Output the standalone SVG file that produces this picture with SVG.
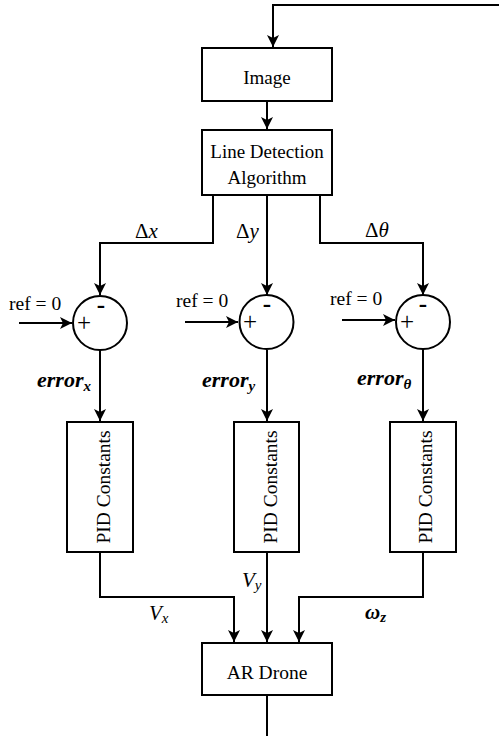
<svg xmlns="http://www.w3.org/2000/svg" width="499" height="736" viewBox="0 0 499 736">
<style>
text{font-family:"Liberation Serif","Times New Roman",serif;fill:#000}
.box{fill:#fff;stroke:#000;stroke-width:2}
.lbl{font-size:19px;text-anchor:middle}
.vt{font-size:19.5px;text-anchor:middle}
.ref{font-size:19.5px}
.sign{font-size:25px;text-anchor:middle}
.minus{font-size:25px;font-weight:bold;text-anchor:middle}
.math{font-size:21px;font-style:italic}
.up{font-style:normal}
.err{font-size:22px;font-style:italic;font-weight:bold}
.sub{font-size:15px}
.conn path{fill:none;stroke:#000;stroke-width:2;marker-end:url(#arr)}
.conn path.plain{marker-end:none}
</style>
<defs>
<marker id="arr" markerUnits="userSpaceOnUse" markerWidth="14" markerHeight="12" refX="12" refY="6" orient="auto">
<path d="M0,0 L12,6 L0,12 L3,6 z" fill="#000"/>
</marker>
</defs>
<g class="conn" id="connectors">
<path d="M499,5 H273 V47"/>
<path d="M267,101 V129"/>
<path d="M213,195 V243 H100 V295"/>
<path d="M267,195 V295"/>
<path d="M320,195 V243 H423 V295"/>
<path d="M19,323 H72"/>
<path d="M185,322 H238"/>
<path d="M342,320 H395"/>
<path d="M100,350 V421"/>
<path d="M267,350 V421"/>
<path d="M423,349 V421"/>
<path d="M100,552 V597 H234 V642"/>
<path d="M267,552 V642"/>
<path d="M423,552 V597 H299 V642"/>
<path class="plain" d="M267,695 V736"/>
</g>
<g id="image"><rect class="box" x="202" y="48" width="130" height="53"/><text class="lbl" x="267" y="84">Image</text></g>
<g id="lda"><rect class="box" x="202" y="130" width="130" height="65"/><text class="lbl" x="267" y="158">Line Detection</text><text class="lbl" x="267" y="184">Algorithm</text></g>
<g id="sum-x"><circle class="box" cx="100" cy="323" r="27"/><text class="sign" x="84" y="331">+</text><text class="minus" x="101" y="313">-</text></g>
<g id="sum-y"><circle class="box" cx="266.5" cy="322" r="27"/><text class="sign" x="250" y="330">+</text><text class="minus" x="267" y="312">-</text></g>
<g id="sum-t"><circle class="box" cx="423" cy="322" r="27"/><text class="sign" x="407" y="330">+</text><text class="minus" x="423" y="312">-</text></g>
<g id="pid-x"><rect class="box" x="67" y="422" width="66" height="130"/><text class="vt" transform="translate(110,487) rotate(-90)">PID Constants</text></g>
<g id="pid-y"><rect class="box" x="234" y="422" width="65" height="130"/><text class="vt" transform="translate(277,487) rotate(-90)">PID Constants</text></g>
<g id="pid-t"><rect class="box" x="390" y="422" width="66" height="130"/><text class="vt" transform="translate(432,487) rotate(-90)">PID Constants</text></g>
<g id="drone"><rect class="box" x="202" y="643" width="130" height="52"/><text class="lbl" x="267" y="679" style="font-size:19.5px">AR Drone</text></g>
<g id="labels">
<text class="ref" x="9" y="310">ref = 0</text>
<text class="ref" x="176" y="307">ref = 0</text>
<text class="ref" x="330" y="305">ref = 0</text>
<text class="math" x="135" y="238"><tspan class="up">Δ</tspan>x</text>
<text class="math" x="236" y="238"><tspan class="up">Δ</tspan>y</text>
<text class="math" x="365" y="237"><tspan class="up">Δ</tspan>θ</text>
<text class="err" x="37" y="387">error<tspan class="sub" dy="4">x</tspan></text>
<text class="err" x="202" y="387">error<tspan class="sub" dy="4">y</tspan></text>
<text class="err" x="357" y="385">error<tspan class="sub" dy="4">θ</tspan></text>
<text class="math" x="149" y="620">V<tspan class="sub" dy="3">x</tspan></text>
<text class="math" x="242" y="587">V<tspan class="sub" dy="3">y</tspan></text>
<text class="math" x="365" y="619" style="font-weight:bold">ω<tspan class="sub" dy="3">z</tspan></text>
</g>
</svg>
